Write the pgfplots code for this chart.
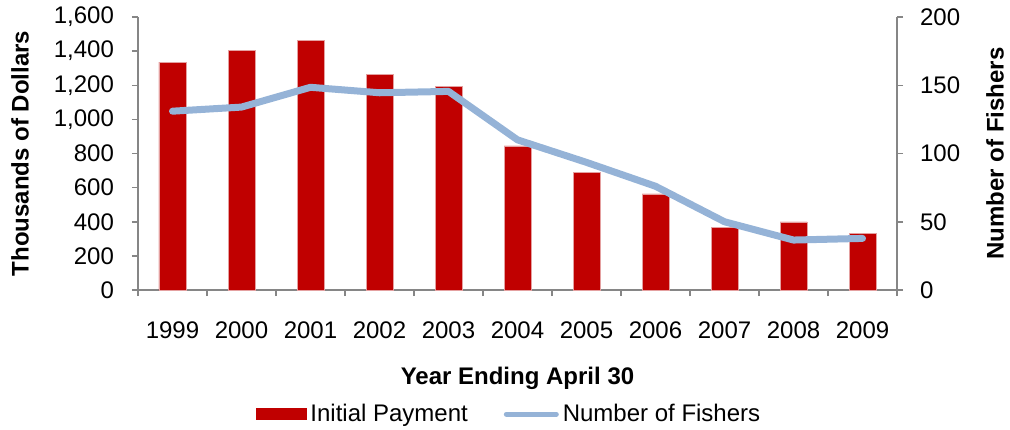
\documentclass[border=0pt]{standalone}
\usepackage{fontspec}
\setmainfont{Liberation Sans}
\usepackage{pgfplots}
\pgfplotsset{compat=1.18}
\definecolor{barred}{RGB}{192,0,0}
\definecolor{barline}{RGB}{228,160,160}
\definecolor{fishblue}{RGB}{149,179,215}
\definecolor{axgray}{RGB}{134,134,134}

\begin{document}
\begin{tikzpicture}
\pgfplotsset{
  every axis/.append style={
    width=379.5pt, height=136.5pt, scale only axis,
    xmin=-0.5, xmax=10.5,
    font=\fontsize{12}{14}\selectfont,
    /pgf/number format/assume math mode=true,
    /pgf/number format/1000 sep={,},
    axis line style={axgray, line width=0.75pt},
    tick style={axgray, line width=0.75pt},
    tick align=outside,
    major tick length=3pt, minor tick length=3pt,
    clip=false,
  }
}
% left axis: payments (thousands of dollars)
\begin{axis}[
  ymin=0, ymax=1600, ytick={0,200,...,1600},
  axis y line*=left, axis x line*=bottom,
  xtick={0,...,10},
  xticklabels={1999,2000,2001,2002,2003,2004,2005,2006,2007,2008,2009},
  major x tick style={draw=none},
  minor xtick={-0.5,0.5,...,10.5},
  xticklabel style={yshift=-9.5pt},
  yticklabel style={xshift=-5.5pt},
  ylabel={\textbf{Thousands of Dollars}},
  ylabel style={at={(axis description cs:-0.1555,0.5)}, anchor=center},
  xlabel={\textbf{Year Ending April 30}},
  xlabel style={at={(axis description cs:0.5,-0.322)}, anchor=center},
]
\addplot[ybar, bar width=13.5pt, fill=barred, draw=barline, line width=0.4pt]
  coordinates {(0,1335) (1,1403) (2,1461) (3,1262) (4,1194) (5,844)
               (6,690) (7,563) (8,365) (9,399) (10,330)};
\end{axis}
% right axis: number of fishers
\begin{axis}[
  ymin=0, ymax=200, ytick={0,50,...,200},
  axis y line*=right, axis x line=none,
  yticklabel style={xshift=5pt},
  ylabel={\textbf{Number of Fishers}},
  ylabel style={at={(axis description cs:1.129,0.5)}, anchor=center},
  legend style={at={(axis description cs:0.49,-0.455)}, anchor=center,
    draw=none, fill=none, font=\fontsize{12}{14}\selectfont},
  legend columns=2,
  legend style={/tikz/every even column/.append style={column sep=16pt}},
]
\addlegendimage{legend image code/.code={\fill[barred] (0pt,-2.75pt) rectangle (25pt,2.75pt);}}
\addlegendentry{Initial Payment}
\addplot[fishblue, line width=3.5pt, line join=round, line cap=round,
  legend image code/.code={\draw[fishblue, line width=2.5pt] (0pt,0pt) -- (25pt,0pt);}]
  coordinates {(0,131) (1,134) (2,148.5) (3,144.5) (4,145.5) (5,110)
               (6,93.5) (7,76) (8,50) (9,36.6) (10,37.8)};
\addlegendentry{Number of Fishers}
\end{axis}
\pgfresetboundingbox
\path[use as bounding box] (-69pt,-69.5pt) rectangle (436pt,145pt);
\end{tikzpicture}
\end{document}
